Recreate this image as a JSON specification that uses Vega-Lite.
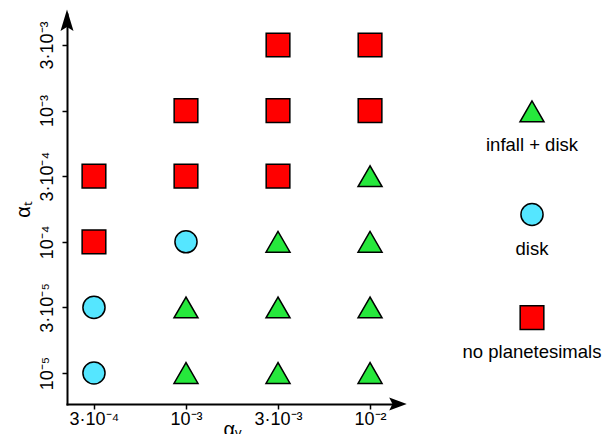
{
  "$schema": "https://vega.github.io/schema/vega-lite/v6.json",
  "padding": {"left": 13, "top": 9, "right": 0, "bottom": 0},
  "background": "white",
  "bounds": "flush",
  "spacing": 60,
  "config": {
    "view": {"stroke": null},
    "font": "Liberation Sans",
    "axis": {
      "domainColor": "black", "domainWidth": 2, "domainCap": "square",
      "tickColor": "black", "tickWidth": 1.5, "tickSize": 5,
      "labelColor": "black", "labelFontSize": 18, "labelFont": "Liberation Sans",
      "titleColor": "black", "titleFontSize": 20, "titleFontWeight": "normal", "titleFont": "Liberation Sans",
      "grid": false, "labelOverlap": false, "labelFlush": false
    }
  },
  "hconcat": [
    {
      "width": 330,
      "height": 390,
      "layer": [
        {
          "data": {"values": [
            {"alpha_v": "3·10⁻³", "alpha_t": "3·10⁻³", "outcome": "no planetesimals"},
            {"alpha_v": "10⁻²", "alpha_t": "3·10⁻³", "outcome": "no planetesimals"},
            {"alpha_v": "10⁻³", "alpha_t": "10⁻³", "outcome": "no planetesimals"},
            {"alpha_v": "3·10⁻³", "alpha_t": "10⁻³", "outcome": "no planetesimals"},
            {"alpha_v": "10⁻²", "alpha_t": "10⁻³", "outcome": "no planetesimals"},
            {"alpha_v": "3·10⁻⁴", "alpha_t": "3·10⁻⁴", "outcome": "no planetesimals"},
            {"alpha_v": "10⁻³", "alpha_t": "3·10⁻⁴", "outcome": "no planetesimals"},
            {"alpha_v": "3·10⁻³", "alpha_t": "3·10⁻⁴", "outcome": "no planetesimals"},
            {"alpha_v": "10⁻²", "alpha_t": "3·10⁻⁴", "outcome": "infall + disk"},
            {"alpha_v": "3·10⁻⁴", "alpha_t": "10⁻⁴", "outcome": "no planetesimals"},
            {"alpha_v": "10⁻³", "alpha_t": "10⁻⁴", "outcome": "disk"},
            {"alpha_v": "3·10⁻³", "alpha_t": "10⁻⁴", "outcome": "infall + disk"},
            {"alpha_v": "10⁻²", "alpha_t": "10⁻⁴", "outcome": "infall + disk"},
            {"alpha_v": "3·10⁻⁴", "alpha_t": "3·10⁻⁵", "outcome": "disk"},
            {"alpha_v": "10⁻³", "alpha_t": "3·10⁻⁵", "outcome": "infall + disk"},
            {"alpha_v": "3·10⁻³", "alpha_t": "3·10⁻⁵", "outcome": "infall + disk"},
            {"alpha_v": "10⁻²", "alpha_t": "3·10⁻⁵", "outcome": "infall + disk"},
            {"alpha_v": "3·10⁻⁴", "alpha_t": "10⁻⁵", "outcome": "disk"},
            {"alpha_v": "10⁻³", "alpha_t": "10⁻⁵", "outcome": "infall + disk"},
            {"alpha_v": "3·10⁻³", "alpha_t": "10⁻⁵", "outcome": "infall + disk"},
            {"alpha_v": "10⁻²", "alpha_t": "10⁻⁵", "outcome": "infall + disk"}
          ]},
          "mark": {"type": "point", "filled": true, "stroke": "black", "strokeWidth": 1.5, "opacity": 1},
          "encoding": {
            "x": {
              "field": "alpha_v", "type": "ordinal",
              "scale": {"type": "point", "domain": ["3·10⁻⁴", "10⁻³", "3·10⁻³", "10⁻²"], "padding": 0.293},
              "axis": {"title": "αᵥ", "labelAngle": 0, "labelPadding": 1, "titlePadding": -9}
            },
            "y": {
              "field": "alpha_t", "type": "ordinal",
              "scale": {"type": "point", "domain": ["3·10⁻³", "10⁻³", "3·10⁻⁴", "10⁻⁴", "3·10⁻⁵", "10⁻⁵"], "padding": 0.4726},
              "axis": {"title": "αₜ", "labelAngle": -90, "labelAlign": "center", "labelBaseline": "bottom", "labelPadding": 6, "titlePadding": 5}
            },
            "shape": {
              "field": "outcome", "type": "nominal",
              "scale": {"domain": ["infall + disk", "disk", "no planetesimals"], "range": ["triangle-up", "circle", "square"]},
              "legend": null
            },
            "color": {
              "field": "outcome", "type": "nominal",
              "scale": {"domain": ["infall + disk", "disk", "no planetesimals"], "range": ["#26e83c", "#55e6ff", "#ff0000"]},
              "legend": null
            },
            "size": {
              "field": "outcome", "type": "nominal",
              "scale": {"type": "ordinal", "domain": ["infall + disk", "disk", "no planetesimals"], "range": [576, 490, 560]},
              "legend": null
            }
          }
        },
        {
          "data": {"values": [{"ax": 0, "ay": 1}]},
          "mark": {"type": "point", "shape": "M0,-0.35 L0.5,1.3 L0,1.0 L-0.5,1.3 Z", "filled": true, "color": "black", "size": 676, "opacity": 1},
          "encoding": {
            "x": {"field": "ax", "type": "quantitative", "scale": {"domain": [0, 1], "nice": false, "zero": false}, "axis": null},
            "y": {"field": "ay", "type": "quantitative", "scale": {"domain": [0, 1], "nice": false, "zero": false}, "axis": null}
          }
        },
        {
          "data": {"values": [{"ax": 1, "ay": 0}]},
          "mark": {"type": "point", "shape": "M0.75,0 L-0.6,0.5 L-0.35,0 L-0.6,-0.5 Z", "filled": true, "color": "black", "size": 676, "opacity": 1},
          "encoding": {
            "x": {"field": "ax", "type": "quantitative", "scale": {"domain": [0, 1], "nice": false, "zero": false}, "axis": null},
            "y": {"field": "ay", "type": "quantitative", "scale": {"domain": [0, 1], "nice": false, "zero": false}, "axis": null}
          }
        }
      ],
      "resolve": {"scale": {"x": "independent", "y": "independent"}}
    },
    {
      "width": 150,
      "height": 401,
      "data": {"values": [
        {"outcome": "infall + disk"},
        {"outcome": "disk"},
        {"outcome": "no planetesimals"}
      ]},
      "layer": [
        {
          "mark": {"type": "point", "filled": true, "stroke": "black", "strokeWidth": 1.5, "opacity": 1},
          "encoding": {
            "y": {"field": "outcome", "type": "nominal", "scale": {"type": "point", "domain": ["infall + disk", "disk", "no planetesimals"], "padding": 0.944}, "axis": null},
            "shape": {
              "field": "outcome", "type": "nominal",
              "scale": {"domain": ["infall + disk", "disk", "no planetesimals"], "range": ["triangle-up", "circle", "square"]},
              "legend": null
            },
            "color": {
              "field": "outcome", "type": "nominal",
              "scale": {"domain": ["infall + disk", "disk", "no planetesimals"], "range": ["#26e83c", "#55e6ff", "#ff0000"]},
              "legend": null
            },
            "size": {
              "field": "outcome", "type": "nominal",
              "scale": {"type": "ordinal", "domain": ["infall + disk", "disk", "no planetesimals"], "range": [576, 490, 560]},
              "legend": null
            }
          }
        },
        {
          "mark": {"type": "text", "fontSize": 18.5, "baseline": "top", "dy": 25, "color": "black", "font": "Liberation Sans"},
          "encoding": {
            "y": {"field": "outcome", "type": "nominal", "scale": {"type": "point", "domain": ["infall + disk", "disk", "no planetesimals"], "padding": 0.944}, "axis": null},
            "text": {"field": "outcome"}
          }
        }
      ]
    }
  ]
}
